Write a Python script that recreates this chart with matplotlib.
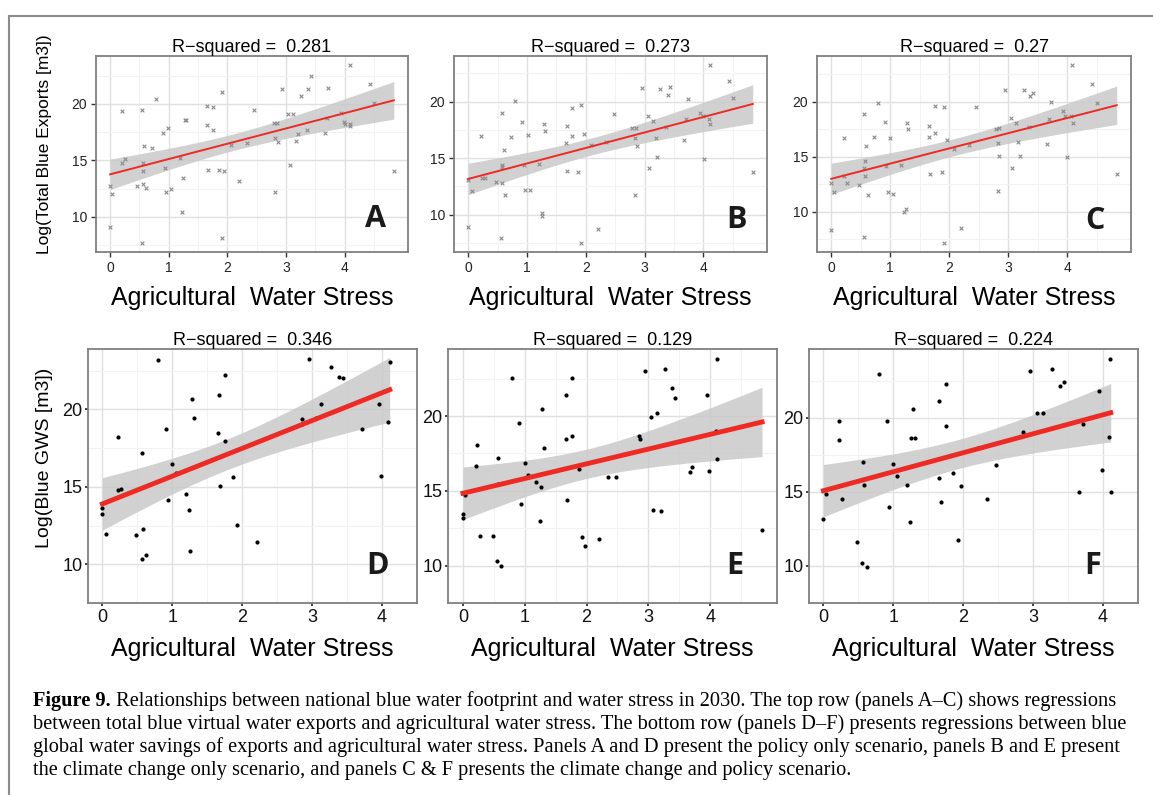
import numpy as np
import matplotlib
matplotlib.use("Agg")
from matplotlib import pyplot as plt

plt.rcParams['font.family'] = ['Liberation Sans', 'DejaVu Sans']

# ---- data (x = agricultural water stress, y = log value) ----
xa = [0, 0.03, 0, 0.2, 0.2, 0.25, 0.545, 0.57, 0.72, 0.56, 0.56, 0.56, 0.46, 0.61, 0.54,
      0.78, 0.9, 0.99, 0.93, 0.95, 1.03, 1.19, 1.24, 1.23, 1.28, 1.3, 1.65, 1.75, 1.65, 1.75,
      1.67, 1.85, 1.95, 1.9, 1.9, 2.07, 2.19, 2.33, 2.46, 2.79, 2.84, 2.82, 2.86, 2.82, 2.94,
      3.04, 3.12, 3.06, 3.17, 3.2, 3.26, 3.38, 3.42, 3.35, 3.7, 3.72, 3.66, 3.94, 3.99, 4.0,
      4.09, 4.1, 4.1, 4.43, 4.51, 4.84]
ya = [12.7, 12.05, 9.12, 19.33, 14.8, 15.16, 19.42, 16.25, 16.13, 14.8, 14.1, 12.93, 12.7, 12.58, 7.68,
      20.45, 17.39, 17.89, 14.34, 12.17, 12.46, 15.22, 13.46, 10.47, 18.6, 18.6, 19.83, 19.71, 18.16, 17.66,
      14.14, 14.17, 14.02, 21.03, 8.09, 16.37, 13.17, 16.57, 19.45, 18.33, 18.27, 17.01, 16.63, 12.17, 21.33,
      19.07, 19.1, 14.6, 16.75, 17.31, 20.68, 21.33, 22.47, 17.72, 18.72, 21.36, 17.42, 19.21, 18.36, 18.25,
      18.25, 18.07, 23.44, 21.77, 20.03, 14.05]

xb = [0, 0.06, 0, 0.22, 0.24, 0.28, 0.48, 0.57, 0.6, 0.57, 0.57, 0.58, 0.62, 0.56,
      0.8, 0.91, 0.73, 1.01, 0.95, 0.96, 1.05, 1.2, 1.29, 1.31, 1.25, 1.26, 1.68, 1.66, 1.76, 1.76,
      1.68, 1.87, 1.92, 1.97, 1.92, 2.09, 2.21, 2.34, 2.48, 2.79, 2.85, 2.83, 2.87, 2.84, 2.95,
      3.05, 3.14, 3.07, 3.19, 3.21, 3.27, 3.39, 3.43, 3.36, 3.71, 3.74, 3.67, 3.94, 3.99, 4.01,
      4.09, 4.12, 4.11, 4.43, 4.51, 4.84]
yb = [13.09, 12.06, 8.91, 17.0, 13.24, 13.2, 12.85, 19.03, 15.76, 14.41, 14.2, 12.82, 11.76, 7.94,
      20.09, 18.24, 16.91, 17.09, 14.41, 12.15, 12.2, 14.44, 18.06, 17.38, 10.18, 9.88, 17.88, 16.38, 19.47, 17.0,
      13.82, 13.74, 19.68, 17.15, 7.47, 16.12, 8.74, 16.41, 18.94, 17.71, 17.71, 16.76, 16.09, 11.76, 21.21,
      18.76, 18.32, 14.12, 16.79, 15.06, 21.12, 20.62, 21.32, 17.79, 18.5, 20.26, 16.59, 19.03, 18.74, 14.88,
      18.44, 18.06, 23.26, 21.79, 20.29, 13.74]

xc = [0, 0.05, 0, 0.22, 0.22, 0.27, 0.47, 0.55, 0.59, 0.57, 0.55, 0.57, 0.62, 0.55,
      0.79, 0.91, 0.72, 1.0, 0.93, 0.96, 1.05, 1.19, 1.28, 1.3, 1.26, 1.23, 1.66, 1.66, 1.76, 1.76,
      1.68, 1.87, 1.91, 1.96, 1.91, 2.08, 2.2, 2.33, 2.46, 2.8, 2.85, 2.82, 2.85, 2.83, 2.94,
      3.04, 3.13, 3.07, 3.17, 3.2, 3.26, 3.37, 3.42, 3.35, 3.7, 3.72, 3.65, 3.93, 3.96, 4.0,
      4.07, 4.1, 4.09, 4.42, 4.51, 4.84]
yc = [12.62, 11.84, 8.34, 16.75, 13.28, 12.62, 12.44, 18.92, 16.02, 14.58, 14.0, 13.22, 11.57, 7.71,
      19.91, 18.16, 16.84, 16.75, 14.19, 11.84, 11.66, 14.22, 18.1, 17.53, 10.27, 9.97, 17.8, 16.84, 19.61, 17.17,
      13.43, 13.64, 19.49, 16.54, 7.17, 15.72, 8.58, 16.08, 19.49, 17.5, 17.59, 16.23, 15.06, 11.93, 21.05,
      18.55, 18.04, 13.95, 16.33, 15.09, 21.08, 20.54, 20.81, 17.74, 18.46, 20.0, 16.2, 19.19, 18.7, 14.97,
      18.73, 18.07, 23.34, 21.57, 19.88, 13.4]

xd = [0, 0, 0.055, 0.22, 0.22, 0.27, 0.48, 0.58, 0.56, 0.62, 0.56, 0.8, 0.91, 0.94, 1.0,
      1.05, 1.2, 1.24, 1.28, 1.31, 1.26, 1.67, 1.66, 1.76, 1.76, 1.68, 1.87, 1.92, 2.21, 2.85,
      2.86, 2.95, 3.05, 3.13, 3.27, 3.39, 3.44, 3.71, 3.95, 3.99, 4.09, 4.11]
yd = [13.63, 13.25, 11.93, 18.22, 14.77, 14.86, 11.89, 12.26, 10.37, 10.62, 17.18, 23.16, 18.75, 14.15, 16.49,
      15.87, 14.54, 13.48, 20.69, 19.44, 10.84, 20.9, 18.49, 22.19, 17.94, 15.07, 15.64, 12.56, 11.44, 19.36,
      19.08, 23.25, 19.46, 20.37, 22.73, 22.11, 22.02, 18.75, 20.37, 15.7, 19.2, 23.08]

xe = [0, 0, 0.04, 0.22, 0.21, 0.27, 0.48, 0.55, 0.62, 0.56, 0.57, 0.8, 0.91, 0.94, 1.0,
      1.05, 1.19, 1.26, 1.24, 1.28, 1.31, 1.67, 1.66, 1.76, 1.76, 1.68, 1.87, 1.92, 1.97, 2.2,
      2.34, 2.48, 2.85, 2.86, 2.95, 3.04, 3.14, 3.07, 3.21, 3.27, 3.39, 3.43, 3.67, 3.71, 3.95,
      3.98, 4.09, 4.11, 4.11, 4.84]
ye = [13.47, 13.21, 14.74, 18.06, 16.69, 11.96, 11.96, 10.32, 9.98, 17.2, 15.46, 22.54, 19.56, 14.11, 16.85,
      16.03, 15.56, 15.28, 12.98, 20.48, 17.84, 21.39, 18.49, 22.54, 18.67, 14.37, 16.47, 11.88, 11.29, 11.75,
      15.95, 15.95, 18.69, 18.49, 23.02, 19.92, 20.2, 13.69, 13.65, 23.13, 21.87, 21.21, 16.25, 16.61, 21.39,
      16.35, 18.97, 17.12, 23.79, 12.36]

xf = [0, 0.04, 0.27, 0.22, 0.22, 0.48, 0.55, 0.62, 0.57, 0.58, 0.8, 0.91, 0.94, 1.0, 1.05,
      1.2, 1.24, 1.28, 1.26, 1.31, 1.66, 1.76, 1.76, 1.66, 1.68, 1.86, 1.97, 1.92, 2.21, 2.34,
      2.47, 2.86, 2.95, 3.05, 3.14, 3.27, 3.39, 3.44, 3.66, 3.71, 3.94, 3.99, 4.09, 4.11, 4.1]
yf = [13.15, 14.88, 14.52, 19.82, 18.53, 11.65, 10.18, 9.92, 17.0, 15.48, 22.98, 19.8, 13.99, 16.9, 16.07,
      15.5, 12.94, 20.6, 18.63, 18.63, 21.11, 22.32, 19.42, 15.91, 14.33, 16.25, 15.38, 11.77, 17.96, 14.5,
      16.85, 19.03, 23.19, 20.34, 20.34, 23.29, 22.16, 22.44, 15.02, 19.56, 21.79, 16.49, 18.73, 15.02, 23.95]

r2_labels = ["0.281", "0.273", "0.27", "0.346", "0.129", "0.224"]
letters = ["A", "B", "C", "D", "E", "F"]
ylabel_top = "Log(Total Blue Exports [m3])"
ylabel_bot = "Log(Blue GWS [m3])"
xlabel = "Agricultural  Water Stress"
caption = [
    " Relationships between national blue water footprint and water stress in 2030. The top row (panels A\u2013C) shows regressions",
    "between total blue virtual water exports and agricultural water stress. The bottom row (panels D\u2013F) presents regressions between blue",
    "global water savings of exports and agricultural water stress. Panels A and D present the policy only scenario, panels B and E present",
    "the climate change only scenario, and panels C & F presents the climate change and policy scenario.",
]

W, H = 1153, 795
fig = plt.figure(figsize=(W / 100, H / 100), dpi=100)


def rect(l, t, r, b):
    return [l / W, 1 - b / H, (r - l) / W, (b - t) / H]


# panel boxes in pixels (left, top, right, bottom)
boxes = [(96, 56, 408, 252), (454, 56, 767, 252), (817, 56, 1131, 252),
         (88, 349, 417, 603), (448, 349, 777, 603), (809, 349, 1138, 603)]
letter_pos = [(0.897, 0.17), (0.903, 0.163), (0.885, 0.159),
              (0.879, 0.146), (0.872, 0.146), (0.863, 0.146)]
datasets = [(xa, ya), (xb, yb), (xc, yc), (xd, yd), (xe, ye), (xf, yf)]


def fit_band(x, y, t=2.0):
    # lm fit + 95% confidence band, like geom_smooth(method = "lm")
    x = np.asarray(x); y = np.asarray(y)
    n = len(x)
    b, a = np.polyfit(x, y, 1)
    xs = np.linspace(x.min(), x.max(), 100)
    resid = y - (a + b * x)
    s = np.sqrt(np.sum(resid ** 2) / (n - 2))
    sxx = np.sum((x - x.mean()) ** 2)
    se = s * np.sqrt(1 / n + (xs - x.mean()) ** 2 / sxx)
    fitv = a + b * xs
    return xs, fitv, fitv - t * se, fitv + t * se


for i, (box, (x, y)) in enumerate(zip(boxes, datasets)):
    top = i < 3
    ax = fig.add_axes(rect(*box))
    x = np.asarray(x); y = np.asarray(y)
    dx = (x.max() - x.min()) * 0.05
    dy = (y.max() - y.min()) * 0.05
    ax.set_xlim(x.min() - dx, x.max() + dx)
    ax.set_ylim(y.min() - dy, y.max() + dy)
    xmaxt = int(np.floor(x.max()))
    ax.set_xticks(range(0, xmaxt + 1))
    ax.set_yticks([10, 15, 20])
    ax.set_xticks(np.arange(0.5, xmaxt + 1, 1), minor=True)
    ax.set_yticks([7.5, 12.5, 17.5, 22.5], minor=True)
    ax.grid(True, which='major', color='#e0e0e0', lw=1.0, zorder=0)
    ax.grid(True, which='minor', color='#f2f2f2', lw=0.8, zorder=0)
    ax.set_axisbelow(True)
    for sp in ax.spines.values():
        sp.set_color('#7f7f7f')
        sp.set_linewidth(1.3)

    xs, fitv, lo, hi = fit_band(x, y)
    ax.fill_between(xs, lo, hi, color='#c9c9c9', alpha=0.85, lw=0, zorder=2)
    if top:
        ax.scatter(x, y, marker='x', s=7, color='#8a8a8a', linewidths=0.8, zorder=3)
        ax.plot(xs, fitv, color='#ee2a24', lw=1.4, zorder=4)
        ax.tick_params(axis='both', which='major', labelsize=10, length=3.5,
                       width=1, color='#333333', labelcolor='#222222', pad=3)
    else:
        ax.scatter(x, y, marker='o', s=9, color='black', lw=0, zorder=3)
        ax.plot(xs, fitv, color='#ee2a24', lw=3.5, zorder=4)
        ax.tick_params(axis='both', which='major', labelsize=13, length=2,
                       width=1.3, color='#333333', labelcolor='#111111', pad=2)
    ax.tick_params(which='minor', length=0)

    ax.set_title("R\u2212squared =  " + r2_labels[i], fontsize=13, pad=3)
    ax.set_xlabel(xlabel, fontsize=18, labelpad=8)
    ax.text(letter_pos[i][0], letter_pos[i][1], letters[i], transform=ax.transAxes,
            ha='center', va='center', fontsize=22, fontweight='bold',
            family=['Open Sans', 'DejaVu Sans'], color='#1a1a1a', zorder=5)

fig.text(45 / W, 1 - 144 / H, ylabel_top, rotation=90, ha='center', va='center', fontsize=12.5)
fig.text(45 / W, 1 - 458 / H, ylabel_bot, rotation=90, ha='center', va='center', fontsize=14)

# outer frame
fig.add_artist(plt.Line2D([9 / W, 9 / W], [0, 1 - 16 / H], transform=fig.transFigure,
                          color='#8c8c8c', lw=1.5))
fig.add_artist(plt.Line2D([9 / W, 1], [1 - 16 / H, 1 - 16 / H], transform=fig.transFigure,
                          color='#8c8c8c', lw=1.5))

# caption
serif = ['Liberation Serif', 'DejaVu Serif']
y0 = 701
cap_fs = 14.7
bold = fig.text(33 / W, 1 - y0 / H, "Figure 9.", fontsize=cap_fs, fontweight='bold',
                family=serif, va='center', ha='left')
fig.add_artist(matplotlib.text.Annotation(caption[0], xy=(1, 0.5), xycoords=bold,
                                          va='center', ha='left', fontsize=cap_fs,
                                          family=serif, annotation_clip=False))
for k, line in enumerate(caption[1:]):
    fig.text(33 / W, 1 - (y0 + 23 * (k + 1)) / H, line, fontsize=cap_fs, family=serif,
             va='center', ha='left')

fig.savefig("out.png", dpi=100)
